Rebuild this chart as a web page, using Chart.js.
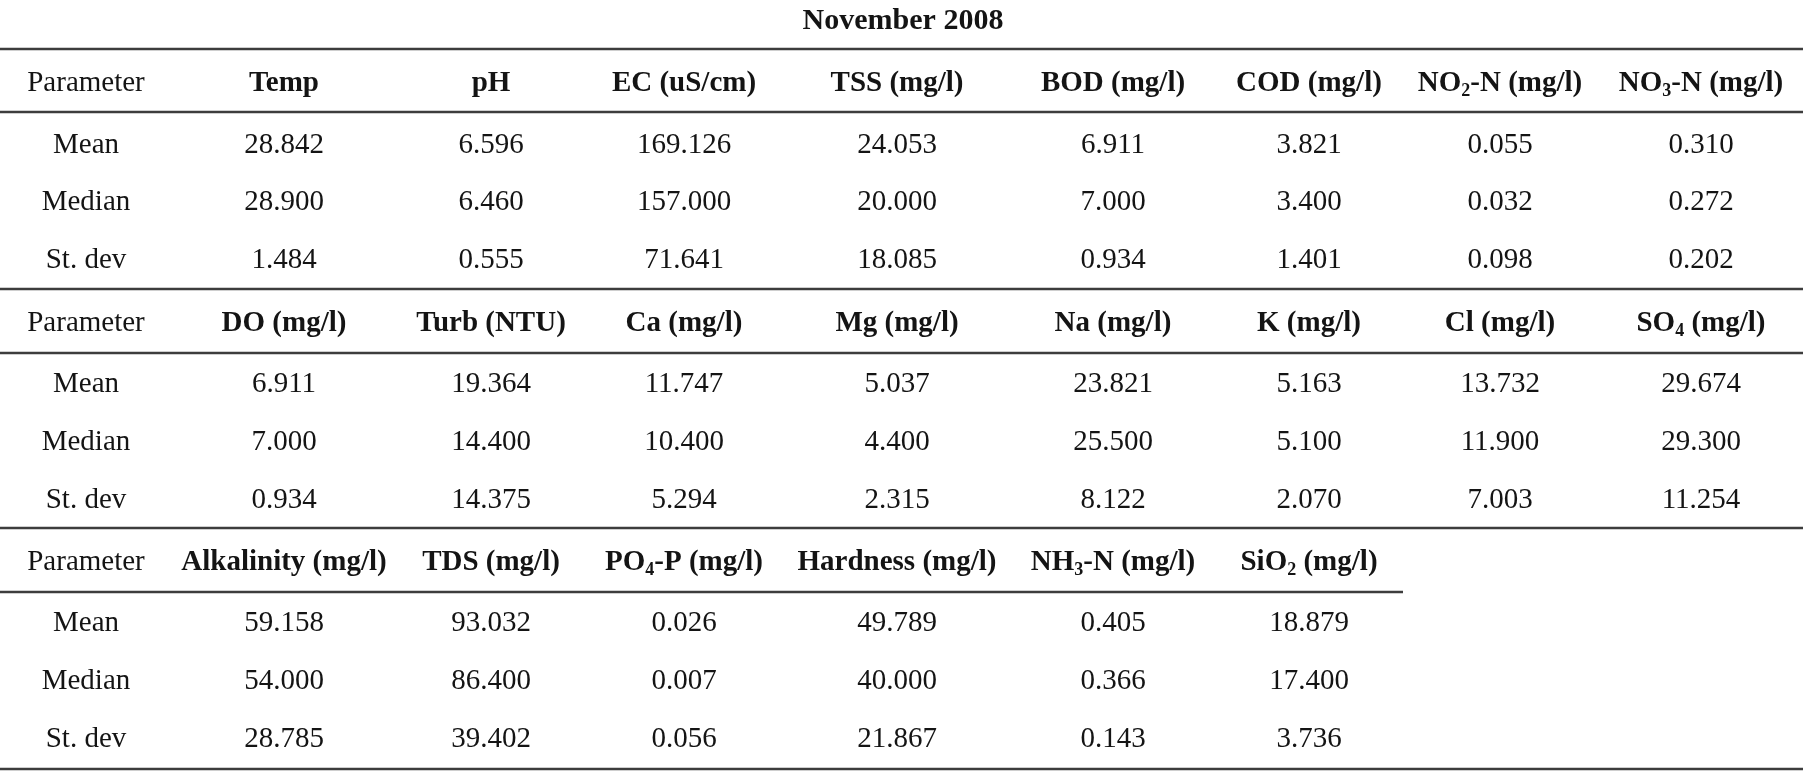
<!DOCTYPE html>
<html>
<head>
<meta charset="utf-8">
<script src="https://cdn.jsdelivr.net/npm/chart.js@4/dist/chart.umd.min.js"></script>
<style>
  html, body { margin: 0; padding: 0; background: #ffffff; }
  #wrap { width: 1803px; height: 774px; }
</style>
</head>
<body>
<div id="wrap"><canvas id="c" width="1803" height="774" aria-label="November 2008 water quality statistics table"></canvas></div>
<script>
// ---------- DATA ----------
const title = "November 2008";
const paramHeader = "Parameter";
const statLabels = ["Mean", "Median", "St. dev"];

const block1Params = ["Temp", "pH", "EC (uS/cm)", "TSS (mg/l)", "BOD (mg/l)", "COD (mg/l)", "NO₂-N (mg/l)", "NO₃-N (mg/l)"];
const block1Mean   = [28.842, 6.596, 169.126, 24.053, 6.911, 3.821, 0.055, 0.310];
const block1Median = [28.900, 6.460, 157.000, 20.000, 7.000, 3.400, 0.032, 0.272];
const block1StDev  = [1.484, 0.555, 71.641, 18.085, 0.934, 1.401, 0.098, 0.202];

const block2Params = ["DO (mg/l)", "Turb (NTU)", "Ca (mg/l)", "Mg (mg/l)", "Na (mg/l)", "K (mg/l)", "Cl (mg/l)", "SO₄ (mg/l)"];
const block2Mean   = [6.911, 19.364, 11.747, 5.037, 23.821, 5.163, 13.732, 29.674];
const block2Median = [7.000, 14.400, 10.400, 4.400, 25.500, 5.100, 11.900, 29.300];
const block2StDev  = [0.934, 14.375, 5.294, 2.315, 8.122, 2.070, 7.003, 11.254];

const block3Params = ["Alkalinity (mg/l)", "TDS (mg/l)", "PO₄-P (mg/l)", "Hardness (mg/l)", "NH₃-N (mg/l)", "SiO₂ (mg/l)"];
const block3Mean   = [59.158, 93.032, 0.026, 49.789, 0.405, 18.879];
const block3Median = [54.000, 86.400, 0.007, 40.000, 0.366, 17.400];
const block3StDev  = [28.785, 39.402, 0.056, 21.867, 0.143, 3.736];

// ---------- LAYOUT (table units on the chart's linear scales) ----------
const tableWidth = 1803, tableHeight = 774;
const colCenters = [86, 284, 491, 684, 897, 1113, 1309, 1500, 1701];
const titleCenter = 903;
const titleRow = 19;
const blockRows = [
  { header: 81,  stats: [143, 200, 258] },
  { header: 321, stats: [382, 440, 498] },
  { header: 560, stats: [621, 679, 737] }
];
// horizontal rules: [y, xEnd]
const rules = [[49, 1803], [112, 1803], [289, 1803], [353, 1803], [528, 1803], [592, 1403], [769, 1803]];

const FONT = '"Liberation Serif", "Times New Roman", serif';
const FSIZE = 29;
const TITLE_SIZE = 30;
const TEXT_COLOR = '#141414';
const RULE_COLOR = '#3d3d3d';

// ---------- BUILD DATASETS ----------
const fmt = v => v.toFixed(3);
const blocks = [
  { params: block1Params, rows: [block1Mean, block1Median, block1StDev] },
  { params: block2Params, rows: [block2Mean, block2Median, block2StDev] },
  { params: block3Params, rows: [block3Mean, block3Median, block3StDev] }
];

const datasets = [];
rules.forEach(([y, xEnd]) => {
  datasets.push({
    type: 'line', data: [{ x: 0, y: y }, { x: xEnd, y: y }],
    borderColor: RULE_COLOR, borderWidth: 2.6, pointRadius: 0, fill: false, tension: 0
  });
});

const cellData = [], cellText = [], cellBold = [], cellSize = [];
function addCell(x, y, text, bold, size) {
  cellData.push({ x: x, y: y }); cellText.push(text); cellBold.push(bold); cellSize.push(size || FSIZE);
}
addCell(titleCenter, titleRow, title, true, TITLE_SIZE);
blocks.forEach((b, bi) => {
  const lay = blockRows[bi];
  addCell(colCenters[0], lay.header, paramHeader, false);
  b.params.forEach((p, j) => addCell(colCenters[j + 1], lay.header, p, true));
  b.rows.forEach((vals, ri) => {
    addCell(colCenters[0], lay.stats[ri], statLabels[ri], false);
    vals.forEach((v, j) => addCell(colCenters[j + 1], lay.stats[ri], fmt(v), false));
  });
});
datasets.push({
  type: 'scatter', data: cellData, pointRadius: 0, pointHoverRadius: 0,
  cellText: cellText, cellBold: cellBold, cellSize: cellSize
});

// ---------- TEXT PLUGIN (draws with subscripts at the points' scale positions) ----------
const SUBS = { '₀':'0','₁':'1','₂':'2','₃':'3','₄':'4','₅':'5','₆':'6','₇':'7','₈':'8','₉':'9' };
function drawRich(ctx, text, cx, cy, bold, size) {
  const w = bold ? 'bold ' : '';
  const mainFont = w + size + 'px ' + FONT;
  const subFont = w + Math.round(size * 0.62) + 'px ' + FONT;
  const runs = [];
  for (const ch of text) {
    const sub = ch in SUBS;
    const c = sub ? SUBS[ch] : ch;
    if (runs.length && runs[runs.length - 1].sub === sub) runs[runs.length - 1].t += c;
    else runs.push({ t: c, sub: sub });
  }
  let total = 0;
  runs.forEach(r => { ctx.font = r.sub ? subFont : mainFont; r.w = ctx.measureText(r.t).width; total += r.w; });
  let x = cx - total / 2;
  const base = cy + size * 0.33;
  ctx.textBaseline = 'alphabetic';
  ctx.textAlign = 'left';
  ctx.fillStyle = TEXT_COLOR;
  runs.forEach(r => {
    ctx.font = r.sub ? subFont : mainFont;
    ctx.fillText(r.t, x, r.sub ? base + size * 0.2 : base);
    x += r.w;
  });
}
const tableText = {
  id: 'tableText',
  afterDatasetsDraw(chart) {
    const ctx = chart.ctx;
    chart.data.datasets.forEach((ds, i) => {
      if (!ds.cellText) return;
      const meta = chart.getDatasetMeta(i);
      ctx.save();
      meta.data.forEach((pt, k) => drawRich(ctx, ds.cellText[k], pt.x, pt.y, ds.cellBold[k], ds.cellSize[k]));
      ctx.restore();
    });
  }
};
const whiteBg = {
  id: 'whiteBg',
  beforeDraw(chart) {
    const ctx = chart.ctx;
    ctx.save(); ctx.fillStyle = '#ffffff'; ctx.fillRect(0, 0, chart.width, chart.height); ctx.restore();
  }
};

new Chart(document.getElementById('c'), {
  data: { datasets: datasets },
  options: {
    responsive: false, animation: false, devicePixelRatio: 1,
    layout: { padding: 0 },
    scales: {
      x: { type: 'linear', min: 0, max: tableWidth, display: false },
      y: { type: 'linear', min: 0, max: tableHeight, reverse: true, display: false }
    },
    plugins: { legend: { display: false }, tooltip: { enabled: false }, title: { display: false } },
    events: []
  },
  plugins: [whiteBg, tableText]
});
</script>
</body>
</html>
